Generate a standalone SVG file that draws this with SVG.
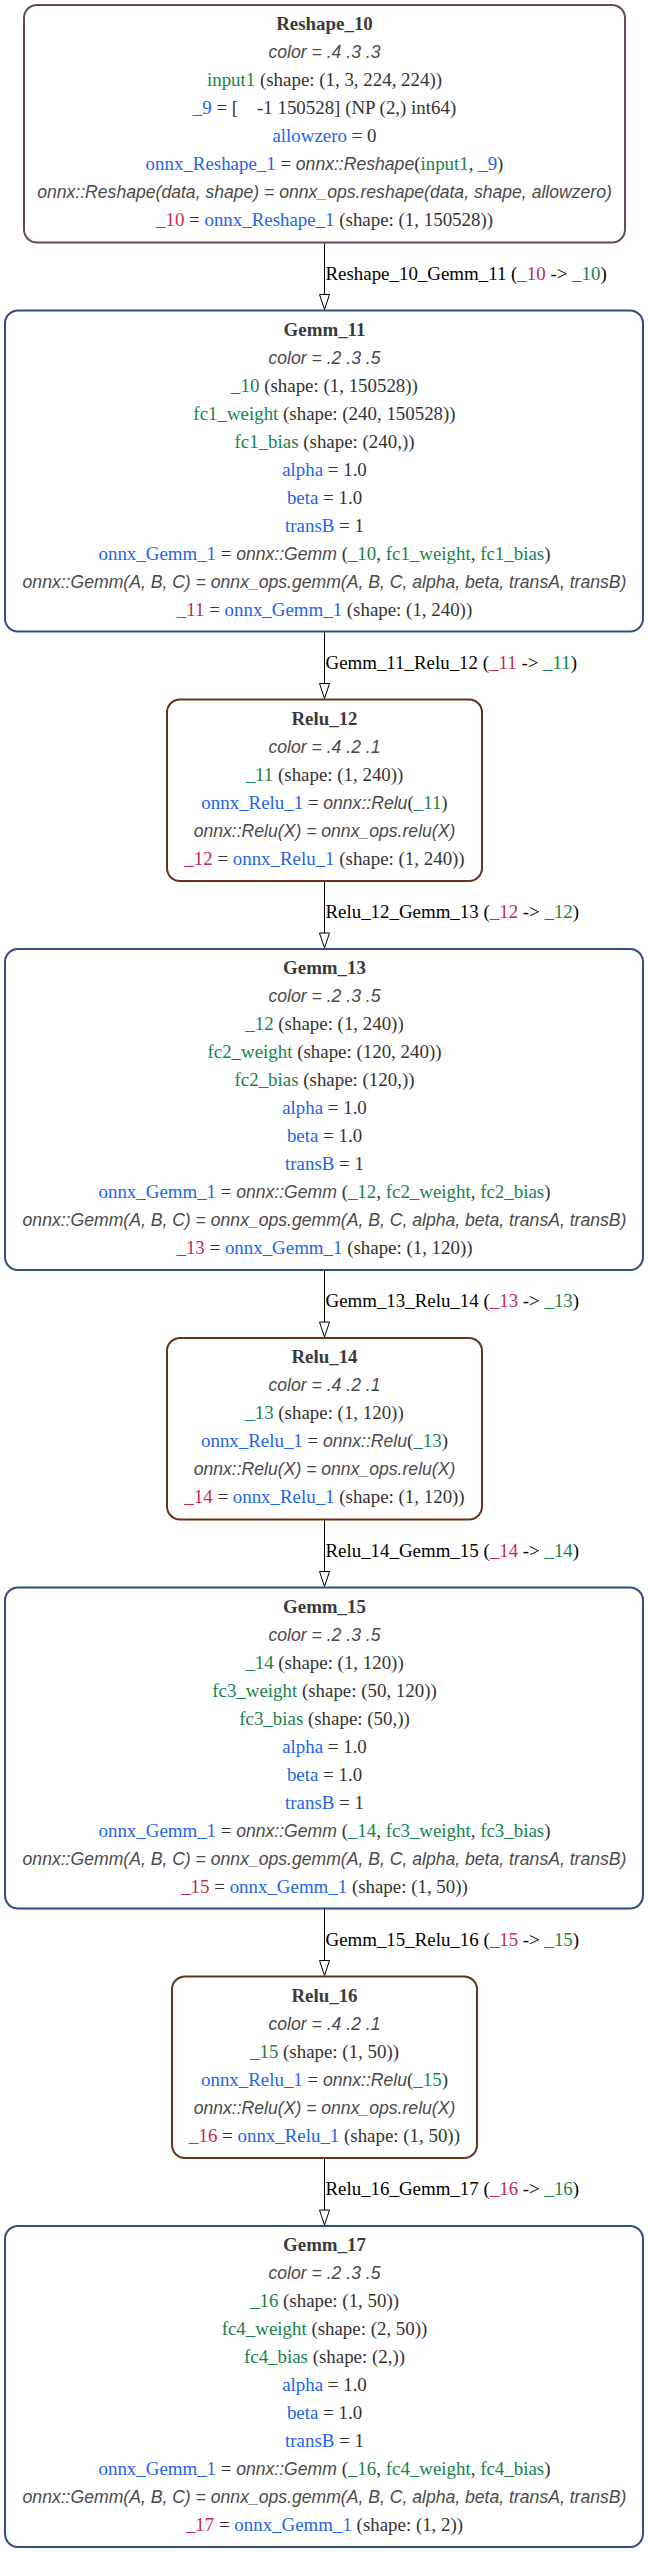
<svg xmlns="http://www.w3.org/2000/svg" width="649" height="2553" viewBox="0 0 649 2553">
<style>
.bg{fill:#fff}
.box{fill:#fff;stroke-width:2}
.rs{stroke:#664d4d}
.gm{stroke:#334d80}
.rl{stroke:#66331a}
text{font-family:"Liberation Serif","Times New Roman",serif;font-size:18.9px;fill:#333;text-anchor:middle}
.ttl{font-weight:bold;fill:#3a3a3a}
.i{font-family:"Liberation Sans",Arial,sans-serif;font-style:italic;font-size:17.6px;fill:#4a4a4a}
.g{fill:#17834b}
.u{fill:#1f63f0}
.r{fill:#c8284f}
text.el{fill:#000;text-anchor:start}
.edge line{stroke:#000;stroke-width:1}
.edge polygon{fill:#fff;stroke:#000;stroke-width:1}
</style>
<rect class="bg" x="0" y="0" width="649" height="2553"/>

<g id="edges" class="edge">
  <line x1="324.5" y1="242.5" x2="324.5" y2="294.5"/><polygon points="319.5,294.5 329.5,294.5 324.5,309.5"/>
  <text class="el" x="325.5" y="279.5">Reshape_10_Gemm_11 (<tspan class="r">_10</tspan> -&gt; <tspan class="g">_10</tspan>)</text>
  <line x1="324.5" y1="631.5" x2="324.5" y2="683.5"/><polygon points="319.5,683.5 329.5,683.5 324.5,698.5"/>
  <text class="el" x="325.5" y="668.5">Gemm_11_Relu_12 (<tspan class="r">_11</tspan> -&gt; <tspan class="g">_11</tspan>)</text>
  <line x1="324.5" y1="881" x2="324.5" y2="933"/><polygon points="319.5,933 329.5,933 324.5,948"/>
  <text class="el" x="325.5" y="918">Relu_12_Gemm_13 (<tspan class="r">_12</tspan> -&gt; <tspan class="g">_12</tspan>)</text>
  <line x1="324.5" y1="1270" x2="324.5" y2="1322"/><polygon points="319.5,1322 329.5,1322 324.5,1337"/>
  <text class="el" x="325.5" y="1307">Gemm_13_Relu_14 (<tspan class="r">_13</tspan> -&gt; <tspan class="g">_13</tspan>)</text>
  <line x1="324.5" y1="1519.5" x2="324.5" y2="1571.5"/><polygon points="319.5,1571.5 329.5,1571.5 324.5,1586.5"/>
  <text class="el" x="325.5" y="1556.5">Relu_14_Gemm_15 (<tspan class="r">_14</tspan> -&gt; <tspan class="g">_14</tspan>)</text>
  <line x1="324.5" y1="1908.5" x2="324.5" y2="1960.5"/><polygon points="319.5,1960.5 329.5,1960.5 324.5,1975.5"/>
  <text class="el" x="325.5" y="1945.5">Gemm_15_Relu_16 (<tspan class="r">_15</tspan> -&gt; <tspan class="g">_15</tspan>)</text>
  <line x1="324.5" y1="2158" x2="324.5" y2="2210"/><polygon points="319.5,2210 329.5,2210 324.5,2225"/>
  <text class="el" x="325.5" y="2195">Relu_16_Gemm_17 (<tspan class="r">_16</tspan> -&gt; <tspan class="g">_16</tspan>)</text>
</g>

<g id="Reshape_10" transform="translate(0,5)">
  <rect class="box rs" x="24" y="0" width="601" height="237.5" rx="13"/>
  <text class="ttl" x="324.5" y="25">Reshape_10</text>
  <text class="i" x="324.5" y="53">color = .4 .3 .3</text>
  <text x="324.5" y="81"><tspan class="g">input1</tspan> (shape: (1, 3, 224, 224))</text>
  <text x="324.5" y="109" xml:space="preserve"><tspan class="u">_9</tspan> = [    -1 150528] (NP (2,) int64)</text>
  <text x="324.5" y="137"><tspan class="u">allowzero</tspan> = 0</text>
  <text x="324.5" y="165"><tspan class="u">onnx_Reshape_1</tspan> = <tspan class="i">onnx::Reshape</tspan>(<tspan class="g">input1</tspan>, <tspan class="u">_9</tspan>)</text>
  <text class="i" x="324.5" y="193">onnx::Reshape(data, shape) = onnx_ops.reshape(data, shape, allowzero)</text>
  <text x="324.5" y="221"><tspan class="r">_10</tspan> = <tspan class="u">onnx_Reshape_1</tspan> (shape: (1, 150528))</text>
</g>

<g id="Gemm_11" transform="translate(0,310.5)">
  <rect class="box gm" x="5" y="0" width="638" height="321" rx="13"/>
  <text class="ttl" x="324.5" y="25">Gemm_11</text>
  <text class="i" x="324.5" y="53">color = .2 .3 .5</text>
  <text x="324.5" y="81"><tspan class="g">_10</tspan> (shape: (1, 150528))</text>
  <text x="324.5" y="109"><tspan class="g">fc1_weight</tspan> (shape: (240, 150528))</text>
  <text x="324.5" y="137"><tspan class="g">fc1_bias</tspan> (shape: (240,))</text>
  <text x="324.5" y="165"><tspan class="u">alpha</tspan> = 1.0</text>
  <text x="324.5" y="193"><tspan class="u">beta</tspan> = 1.0</text>
  <text x="324.5" y="221"><tspan class="u">transB</tspan> = 1</text>
  <text x="324.5" y="249"><tspan class="u">onnx_Gemm_1</tspan> = <tspan class="i">onnx::Gemm</tspan> (<tspan class="g">_10</tspan>, <tspan class="g">fc1_weight</tspan>, <tspan class="g">fc1_bias</tspan>)</text>
  <text class="i" x="324.5" y="277">onnx::Gemm(A, B, C) = onnx_ops.gemm(A, B, C, alpha, beta, transA, transB)</text>
  <text x="324.5" y="305"><tspan class="r">_11</tspan> = <tspan class="u">onnx_Gemm_1</tspan> (shape: (1, 240))</text>
</g>

<g id="Relu_12" transform="translate(0,699.5)">
  <rect class="box rl" x="167" y="0" width="315" height="181.5" rx="13"/>
  <text class="ttl" x="324.5" y="25">Relu_12</text>
  <text class="i" x="324.5" y="53">color = .4 .2 .1</text>
  <text x="324.5" y="81"><tspan class="g">_11</tspan> (shape: (1, 240))</text>
  <text x="324.5" y="109"><tspan class="u">onnx_Relu_1</tspan> = <tspan class="i">onnx::Relu</tspan>(<tspan class="g">_11</tspan>)</text>
  <text class="i" x="324.5" y="137">onnx::Relu(X) = onnx_ops.relu(X)</text>
  <text x="324.5" y="165"><tspan class="r">_12</tspan> = <tspan class="u">onnx_Relu_1</tspan> (shape: (1, 240))</text>
</g>

<g id="Gemm_13" transform="translate(0,949)">
  <rect class="box gm" x="5" y="0" width="638" height="321" rx="13"/>
  <text class="ttl" x="324.5" y="25">Gemm_13</text>
  <text class="i" x="324.5" y="53">color = .2 .3 .5</text>
  <text x="324.5" y="81"><tspan class="g">_12</tspan> (shape: (1, 240))</text>
  <text x="324.5" y="109"><tspan class="g">fc2_weight</tspan> (shape: (120, 240))</text>
  <text x="324.5" y="137"><tspan class="g">fc2_bias</tspan> (shape: (120,))</text>
  <text x="324.5" y="165"><tspan class="u">alpha</tspan> = 1.0</text>
  <text x="324.5" y="193"><tspan class="u">beta</tspan> = 1.0</text>
  <text x="324.5" y="221"><tspan class="u">transB</tspan> = 1</text>
  <text x="324.5" y="249"><tspan class="u">onnx_Gemm_1</tspan> = <tspan class="i">onnx::Gemm</tspan> (<tspan class="g">_12</tspan>, <tspan class="g">fc2_weight</tspan>, <tspan class="g">fc2_bias</tspan>)</text>
  <text class="i" x="324.5" y="277">onnx::Gemm(A, B, C) = onnx_ops.gemm(A, B, C, alpha, beta, transA, transB)</text>
  <text x="324.5" y="305"><tspan class="r">_13</tspan> = <tspan class="u">onnx_Gemm_1</tspan> (shape: (1, 120))</text>
</g>

<g id="Relu_14" transform="translate(0,1338)">
  <rect class="box rl" x="167" y="0" width="315" height="181.5" rx="13"/>
  <text class="ttl" x="324.5" y="25">Relu_14</text>
  <text class="i" x="324.5" y="53">color = .4 .2 .1</text>
  <text x="324.5" y="81"><tspan class="g">_13</tspan> (shape: (1, 120))</text>
  <text x="324.5" y="109"><tspan class="u">onnx_Relu_1</tspan> = <tspan class="i">onnx::Relu</tspan>(<tspan class="g">_13</tspan>)</text>
  <text class="i" x="324.5" y="137">onnx::Relu(X) = onnx_ops.relu(X)</text>
  <text x="324.5" y="165"><tspan class="r">_14</tspan> = <tspan class="u">onnx_Relu_1</tspan> (shape: (1, 120))</text>
</g>

<g id="Gemm_15" transform="translate(0,1587.5)">
  <rect class="box gm" x="5" y="0" width="638" height="321" rx="13"/>
  <text class="ttl" x="324.5" y="25">Gemm_15</text>
  <text class="i" x="324.5" y="53">color = .2 .3 .5</text>
  <text x="324.5" y="81"><tspan class="g">_14</tspan> (shape: (1, 120))</text>
  <text x="324.5" y="109"><tspan class="g">fc3_weight</tspan> (shape: (50, 120))</text>
  <text x="324.5" y="137"><tspan class="g">fc3_bias</tspan> (shape: (50,))</text>
  <text x="324.5" y="165"><tspan class="u">alpha</tspan> = 1.0</text>
  <text x="324.5" y="193"><tspan class="u">beta</tspan> = 1.0</text>
  <text x="324.5" y="221"><tspan class="u">transB</tspan> = 1</text>
  <text x="324.5" y="249"><tspan class="u">onnx_Gemm_1</tspan> = <tspan class="i">onnx::Gemm</tspan> (<tspan class="g">_14</tspan>, <tspan class="g">fc3_weight</tspan>, <tspan class="g">fc3_bias</tspan>)</text>
  <text class="i" x="324.5" y="277">onnx::Gemm(A, B, C) = onnx_ops.gemm(A, B, C, alpha, beta, transA, transB)</text>
  <text x="324.5" y="305"><tspan class="r">_15</tspan> = <tspan class="u">onnx_Gemm_1</tspan> (shape: (1, 50))</text>
</g>

<g id="Relu_16" transform="translate(0,1976.5)">
  <rect class="box rl" x="172" y="0" width="305" height="181.5" rx="13"/>
  <text class="ttl" x="324.5" y="25">Relu_16</text>
  <text class="i" x="324.5" y="53">color = .4 .2 .1</text>
  <text x="324.5" y="81"><tspan class="g">_15</tspan> (shape: (1, 50))</text>
  <text x="324.5" y="109"><tspan class="u">onnx_Relu_1</tspan> = <tspan class="i">onnx::Relu</tspan>(<tspan class="g">_15</tspan>)</text>
  <text class="i" x="324.5" y="137">onnx::Relu(X) = onnx_ops.relu(X)</text>
  <text x="324.5" y="165"><tspan class="r">_16</tspan> = <tspan class="u">onnx_Relu_1</tspan> (shape: (1, 50))</text>
</g>

<g id="Gemm_17" transform="translate(0,2226)">
  <rect class="box gm" x="5" y="0" width="638" height="321" rx="13"/>
  <text class="ttl" x="324.5" y="25">Gemm_17</text>
  <text class="i" x="324.5" y="53">color = .2 .3 .5</text>
  <text x="324.5" y="81"><tspan class="g">_16</tspan> (shape: (1, 50))</text>
  <text x="324.5" y="109"><tspan class="g">fc4_weight</tspan> (shape: (2, 50))</text>
  <text x="324.5" y="137"><tspan class="g">fc4_bias</tspan> (shape: (2,))</text>
  <text x="324.5" y="165"><tspan class="u">alpha</tspan> = 1.0</text>
  <text x="324.5" y="193"><tspan class="u">beta</tspan> = 1.0</text>
  <text x="324.5" y="221"><tspan class="u">transB</tspan> = 1</text>
  <text x="324.5" y="249"><tspan class="u">onnx_Gemm_1</tspan> = <tspan class="i">onnx::Gemm</tspan> (<tspan class="g">_16</tspan>, <tspan class="g">fc4_weight</tspan>, <tspan class="g">fc4_bias</tspan>)</text>
  <text class="i" x="324.5" y="277">onnx::Gemm(A, B, C) = onnx_ops.gemm(A, B, C, alpha, beta, transA, transB)</text>
  <text x="324.5" y="305"><tspan class="r">_17</tspan> = <tspan class="u">onnx_Gemm_1</tspan> (shape: (1, 2))</text>
</g>
</svg>
